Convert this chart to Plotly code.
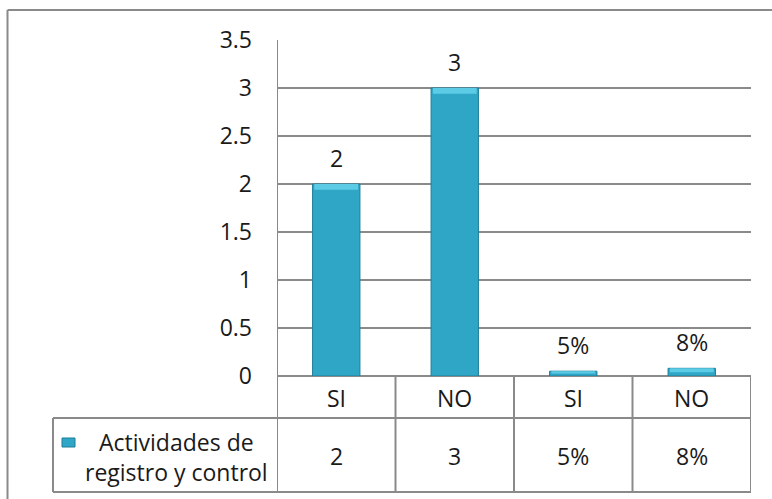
import plotly.graph_objects as go

# Data
categories = ["SI", "NO", "SI", "NO"]
values = [2, 3, 0.05, 0.08]
value_labels = ["2", "3", "5%", "8%"]
series_name = ["Actividades de", "registro y control"]
y_ticks = [0, 0.5, 1, 1.5, 2, 2.5, 3, 3.5]
y_tick_text = ["0", "0.5", "1", "1.5", "2", "2.5", "3", "3.5"]

FONT = "Open Sans, sans-serif"
FS = 23
TXT = "#1a1a1a"
GRID = "#8a8a8a"
BAR = "#2fa6c6"
BAR_EDGE = "#1f7f99"
BAR_TOP = "#5ccbe6"

W, H = 772, 499
L, R, T, B = 277, 21, 40, 123
plot_h = H - T - B
plot_w = W - L - R


def py(pix):
    """pixel row -> paper y"""
    return (H - B - pix) / plot_h


def px(pix):
    """pixel column -> paper x"""
    return (pix - L) / plot_w


def label(x, y, text, xref, yref, **kw):
    return dict(x=x, y=y, xref=xref, yref=yref, text=text, showarrow=False,
                xanchor=kw.get("xanchor", "center"), yanchor=kw.get("yanchor", "middle"),
                yshift=kw.get("yshift", 0), font=dict(size=FS, color=TXT, family=FONT))


xs = list(range(len(categories)))

fig = go.Figure()
fig.add_trace(go.Bar(
    x=xs, y=values, width=0.4,
    marker=dict(color=BAR, line=dict(color=BAR_EDGE, width=1)),
    hoverinfo="skip", showlegend=False,
))
# lighter bevel band along each bar top
band = [min(0.06, v * 0.5) for v in values]
fig.add_trace(go.Bar(
    x=xs, y=band, base=[v - b for v, b in zip(values, band)], width=0.37,
    marker=dict(color=BAR_TOP, line=dict(width=0)),
    hoverinfo="skip", showlegend=False,
))

annotations = []
# value labels above bars
for x, v, t in zip(xs, values, value_labels):
    annotations.append(label(x, v, t, "x", "y", yanchor="bottom", yshift=8))
# category row and value row of the data table
for x, c, t in zip(xs, categories, value_labels):
    annotations.append(label(x, py(398), c, "x", "paper"))
    annotations.append(label(x, py(456), t, "x", "paper"))
# series name in the table's legend cell
annotations.append(label(px(176), py(442), series_name[0], "paper", "paper"))
annotations.append(label(px(176), py(472), series_name[1], "paper", "paper"))

line = dict(color=GRID, width=2)
shapes = []
# outer chart frame (top and left edges)
shapes.append(dict(type="line", xref="paper", yref="paper", x0=px(7.5), x1=px(780),
                   y0=py(10), y1=py(10), line=line))
shapes.append(dict(type="line", xref="paper", yref="paper", x0=px(7.5), x1=px(7.5),
                   y0=py(10), y1=py(510), line=line))
# value axis line, continued through the table
shapes.append(dict(type="line", xref="x", yref="paper", x0=-0.5, x1=-0.5,
                   y0=1, y1=py(492), line=line))
# table column separators
for b in [0.5, 1.5, 2.5, 3.5]:
    shapes.append(dict(type="line", xref="x", yref="paper", x0=b, x1=b,
                       y0=0, y1=py(492), line=line))
# legend cell left edge
shapes.append(dict(type="line", xref="paper", yref="paper", x0=px(53), x1=px(53),
                   y0=py(418), y1=py(492), line=line))
# table row lines
for yy in [418, 492]:
    shapes.append(dict(type="line", xref="paper", yref="paper", x0=px(53), x1=1,
                       y0=py(yy), y1=py(yy), line=line))
# legend key
shapes.append(dict(type="rect", xref="paper", yref="paper", x0=px(62), x1=px(75),
                   y0=py(447), y1=py(438), fillcolor=BAR, line=dict(color=BAR_EDGE, width=1)))

fig.update_layout(
    width=W, height=H,
    margin=dict(l=L, r=R, t=T, b=B),
    paper_bgcolor="white", plot_bgcolor="white",
    barmode="overlay",
    showlegend=False,
    font=dict(family=FONT, size=FS, color=TXT),
    xaxis=dict(range=[-0.5, 3.5], showticklabels=False, showgrid=False, zeroline=False,
               showline=False, ticks="", fixedrange=True),
    yaxis=dict(range=[0, 3.5], tickvals=y_ticks, ticktext=y_tick_text, showgrid=True,
               gridcolor=GRID, gridwidth=2, zeroline=True, zerolinecolor=GRID, zerolinewidth=2,
               showline=False, ticks="", ticklabelstandoff=24,
               tickfont=dict(size=FS, color=TXT, family=FONT), fixedrange=True),
    annotations=annotations,
    shapes=shapes,
)

fig.write_html("out.html")
